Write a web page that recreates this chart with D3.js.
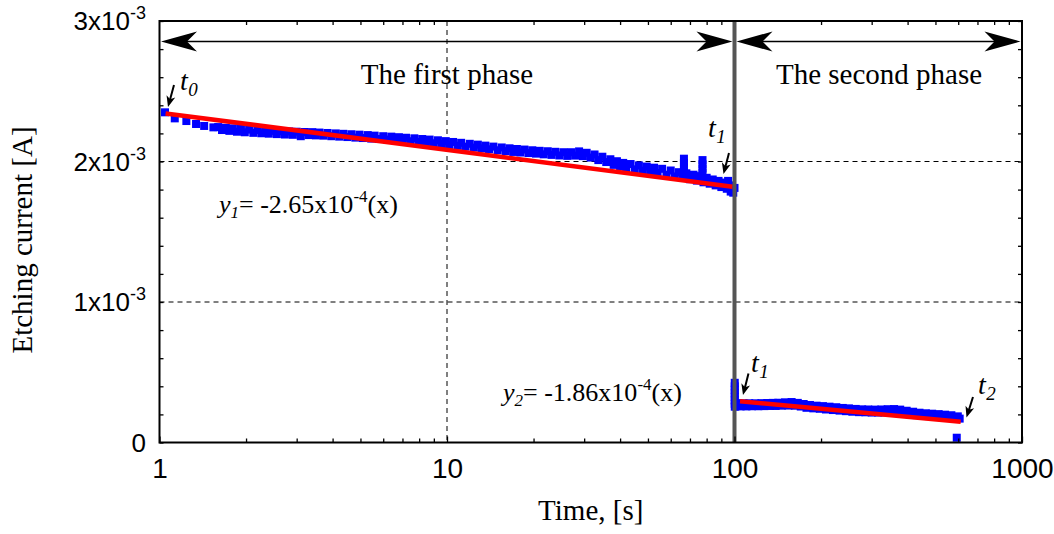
<!DOCTYPE html>
<html><head><meta charset="utf-8">
<script src="https://cdn.jsdelivr.net/npm/d3@7"></script>
<style>html,body{margin:0;padding:0;background:#fff;}svg{display:block;}</style>
</head><body>
<svg id="chart" width="1054" height="534"></svg>
<script>
// ---------- DATA (current in units of 1e-3 A, time in s) ----------
const xTickValues = [1, 10, 100, 1000];
const xTickLabels = ["1", "10", "100", "1000"];
const yTickValues = [0, 1, 2, 3];
const yTickMantissa = ["0", "1x10", "2x10", "3x10"];
const yTickExponent = ["", "-3", "-3", "-3"];

const phase1Time = [1.045,1.13,1.24,1.34,1.43,1.54,1.6,1.65,1.7,1.75,1.8,1.86,1.92,1.98,2.05,2.12,2.19,2.26,2.33,2.4,2.48,2.56,2.64,2.73,2.82,2.91,3.0,3.1,3.2,3.3,3.4,3.5,3.6,3.72,3.84,3.96,4.1,4.22,4.36,4.5,4.65,4.8,4.96,5.1,5.3,5.45,5.6,5.8,6.0,6.2,6.4,6.6,6.8,7.0,7.2,7.45,7.7,7.95,8.2,8.45,8.7,9.0,9.3,9.6,9.9,10.2,10.5,10.9,11.2,11.6,12,12.4,12.8,13.2,13.6,14,14.5,15,15.5,16,16.5,17,17.5,18,18.6,19.2,19.8,20.4,21,21.7,22.4,23.1,23.8,24.6,25.4,26.2,27,27.9,28.8,29.7,30.6,31.6,32.6,33.6,34.7,35.8,37,38,39,40,41,42,43.5,45,46.5,48,49.5,51,52.5,54,56,58,60,62,64,66,68,70,72,74,76,78,80,82,84,86,88,90,92,94,95,96,97,98,99,100];
const phase1Current = [2.350,2.307,2.288,2.267,2.253,2.243,2.245,2.224,2.240,2.218,2.236,2.212,2.232,2.208,2.227,2.204,2.224,2.201,2.221,2.198,2.218,2.195,2.216,2.192,2.214,2.190,2.212,2.180,2.210,2.188,2.209,2.186,2.206,2.184,2.203,2.180,2.200,2.177,2.197,2.174,2.194,2.170,2.191,2.167,2.188,2.163,2.184,2.160,2.180,2.156,2.177,2.152,2.173,2.148,2.169,2.144,2.165,2.139,2.160,2.135,2.156,2.130,2.151,2.124,2.145,2.118,2.139,2.112,2.133,2.106,2.126,2.099,2.120,2.093,2.113,2.087,2.106,2.080,2.100,2.074,2.094,2.068,2.089,2.064,2.085,2.060,2.080,2.056,2.076,2.051,2.073,2.047,2.069,2.043,2.066,2.040,2.066,2.042,2.072,2.038,2.062,2.028,2.050,2.010,2.034,1.996,2.016,1.976,2.002,1.964,1.990,1.952,1.982,1.944,1.972,1.934,1.964,1.926,1.956,1.918,1.948,1.906,1.936,1.894,1.924,1.884,1.916,1.874,1.906,1.864,1.896,1.852,1.884,1.842,1.872,1.830,1.862,1.818,1.850,1.806,1.862,1.830,1.786,1.808,1.778,1.812];

const spikeTime = [66.7,66.7,66.7,66.7,77.4,77.4,77.4,77.4];
const spikeCurrent = [2.020,1.990,1.960,1.930,2.010,1.980,1.950,1.920];

const phase2Time = [100.2,100.2,100.2,100.2,100.2,100.2,100.2,100.2,101,103,105,107.5,110,112.5,115,118,121,124,127,130,133,136,139,142,146,150,154,158,162,166,170,174,178,183,188,193,198,203,208,214,220,226,232,238,244,250,257,264,271,278,285,292,300,308,316,324,332,341,350,359,368,377,387,397,407,418,429,440,451,463,475,487,500,513,526,540,554,568,583,598,607,593];
const phase2Current = [0.425,0.400,0.375,0.350,0.325,0.300,0.275,0.255,0.258,0.280,0.257,0.279,0.257,0.279,0.258,0.279,0.258,0.280,0.259,0.281,0.260,0.282,0.260,0.283,0.262,0.286,0.263,0.288,0.262,0.282,0.256,0.274,0.247,0.267,0.243,0.262,0.240,0.259,0.235,0.255,0.231,0.251,0.227,0.246,0.223,0.243,0.219,0.239,0.216,0.236,0.215,0.235,0.213,0.234,0.213,0.235,0.214,0.237,0.215,0.238,0.213,0.234,0.207,0.226,0.200,0.219,0.195,0.212,0.191,0.208,0.188,0.205,0.185,0.202,0.181,0.198,0.178,0.194,0.172,0.186,0.170,0.034];

const fit1Time = [1.05, 98.5];
const fit1Current = [2.342, 1.820];
const fit2Time = [104.5, 612];
const fit2Current = [0.293, 0.148];

const gridCurrent = [1, 2];
const gridTime = [10, 100];
const phaseBoundary = 100;

// ---------- LAYOUT ----------
const M = {left: 159.5, right: 1022, top: 21, bottom: 442.5};
const SERIF = "'Liberation Serif','Times New Roman',Times,serif";
const SANS = "'Liberation Sans',Arial,Helvetica,sans-serif";

const x = d3.scaleLog().domain([1, 1000]).range([M.left, M.right]);
const y = d3.scaleLinear().domain([0, 3]).range([M.bottom, M.top]);
const svg = d3.select("#chart");
const zip = (a, b) => a.map((v, i) => [v, b[i]]);

// grid
svg.append("g").selectAll("line").data(gridCurrent).join("line")
  .attr("x1", M.left).attr("x2", M.right)
  .attr("y1", d => y(d)).attr("y2", d => y(d))
  .attr("stroke", "#000").attr("stroke-width", 1).attr("stroke-dasharray", "5,4");
svg.append("g").selectAll("line").data(gridTime).join("line")
  .attr("x1", d => x(d)).attr("x2", d => x(d))
  .attr("y1", M.top).attr("y2", M.bottom)
  .attr("stroke", "#000").attr("stroke-width", 1).attr("stroke-dasharray", "5,4");

// markers
const S = 8;
function squares(data) {
  svg.append("g").selectAll("rect").data(data).join("rect")
    .attr("x", d => x(d[0]) - S / 2).attr("y", d => y(d[1]) - S / 2)
    .attr("width", S).attr("height", S).attr("fill", "#0000ff");
}
squares(zip(phase1Time, phase1Current));
squares(zip(spikeTime, spikeCurrent));
squares(zip(phase2Time, phase2Current));

// fit lines
const line = d3.line().x(d => x(d[0])).y(d => y(d[1]));
[zip(fit1Time, fit1Current), zip(fit2Time, fit2Current)].forEach(f => {
  svg.append("path").datum(f).attr("d", line)
    .attr("fill", "none").attr("stroke", "#ff0000").attr("stroke-width", 4.5);
});

// phase boundary
svg.append("line").attr("x1", x(phaseBoundary)).attr("x2", x(phaseBoundary))
  .attr("y1", M.top).attr("y2", M.bottom)
  .attr("stroke", "#555").attr("stroke-width", 4);

// axes ticks (inward)
const minorX = [];
[1, 10, 100].forEach(d => { for (let k = 2; k <= 9; k++) minorX.push(d * k); });
const minorY = d3.range(0, 3.001, 0.2);

function styleAxis(g) { g.select(".domain").remove(); g.selectAll(".tick line").attr("stroke", "#000").attr("stroke-width", 1.3); }

svg.append("g").attr("transform", `translate(0,${M.bottom})`)
  .call(d3.axisBottom(x).tickValues(minorX).tickFormat("").tickSizeInner(-4).tickSizeOuter(0)).call(styleAxis);
svg.append("g").attr("transform", `translate(0,${M.top})`)
  .call(d3.axisTop(x).tickValues(minorX).tickFormat("").tickSizeInner(-4).tickSizeOuter(0)).call(styleAxis);
const xAx = svg.append("g").attr("transform", `translate(0,${M.bottom})`)
  .call(d3.axisBottom(x).tickValues(xTickValues).tickFormat((d, i) => xTickLabels[i])
    .tickSizeInner(-6).tickSizeOuter(0).tickPadding(15.5)).call(styleAxis);
xAx.selectAll("text").attr("font-family", SANS).attr("font-size", 28).attr("fill", "#000");

svg.append("g").attr("transform", `translate(${M.left},0)`)
  .call(d3.axisLeft(y).tickValues(minorY).tickFormat("").tickSizeInner(-4).tickSizeOuter(0)).call(styleAxis);
svg.append("g").attr("transform", `translate(${M.right},0)`)
  .call(d3.axisRight(y).tickValues(minorY).tickFormat("").tickSizeInner(-4).tickSizeOuter(0)).call(styleAxis);

// y tick labels with superscript
const yl = svg.append("g").selectAll("text").data(yTickValues).join("text")
  .attr("x", 146).attr("y", d => y(d) + 9)
  .attr("text-anchor", "end").attr("font-family", SANS).attr("font-size", 26).attr("fill", "#000");
yl.append("tspan").text((d, i) => yTickMantissa[i]);
yl.filter((d, i) => yTickExponent[i] !== "").append("tspan")
  .attr("font-size", 18).attr("dy", -11).text((d) => yTickExponent[yTickValues.indexOf(d)]);

// frame
svg.append("rect").attr("x", M.left).attr("y", M.top)
  .attr("width", M.right - M.left).attr("height", M.bottom - M.top)
  .attr("fill", "none").attr("stroke", "#000").attr("stroke-width", 2);

// axis titles
svg.append("text").attr("x", (M.left + M.right) / 2).attr("y", 520)
  .attr("text-anchor", "middle").attr("font-family", SERIF).attr("font-size", 29)
  .text("Time, [s]");
svg.append("text").attr("transform", "translate(32,240) rotate(-90)")
  .attr("text-anchor", "middle").attr("font-family", SERIF).attr("font-size", 29)
  .text("Etching current [A]");

// ---------- ANNOTATIONS ----------
function head(tx, ty, ux, uy, L, Hh, N) {
  const px = -uy, py = ux;
  const p = [[tx, ty],
    [tx - ux * L + px * Hh, ty - uy * L + py * Hh],
    [tx - ux * N, ty - uy * N],
    [tx - ux * L - px * Hh, ty - uy * L - py * Hh]];
  return "M" + p.map(q => q.join(",")).join("L") + "Z";
}
const ay = 41.5;
function dblArrow(x1, x2) {
  svg.append("line").attr("x1", x1 + 10).attr("x2", x2 - 10).attr("y1", ay).attr("y2", ay)
    .attr("stroke", "#000").attr("stroke-width", 1.5);
  svg.append("path").attr("d", head(x1, ay, -1, 0, 36, 10, 26)).attr("fill", "#000");
  svg.append("path").attr("d", head(x2, ay, 1, 0, 36, 10, 26)).attr("fill", "#000");
}
dblArrow(x(1) + 1.5, x(phaseBoundary) - 2);
dblArrow(x(phaseBoundary) + 2, x(1000) - 1.5);

svg.append("text").attr("x", x(10)).attr("y", 84).attr("text-anchor", "middle")
  .attr("font-family", SERIF).attr("font-size", 29).text("The first phase");
svg.append("text").attr("x", 879).attr("y", 84).attr("text-anchor", "middle")
  .attr("font-family", SERIF).attr("font-size", 29).text("The second phase");

function smallArrow(x1, y1, x2, y2) {
  const dx = x2 - x1, dy = y2 - y1, len = Math.hypot(dx, dy), ux = dx / len, uy = dy / len;
  svg.append("line").attr("x1", x1).attr("y1", y1).attr("x2", x2 - ux * 6).attr("y2", y2 - uy * 6)
    .attr("stroke", "#000").attr("stroke-width", 2);
  svg.append("path").attr("d", head(x2, y2, ux, uy, 11, 4.5, 8)).attr("fill", "#000");
}
smallArrow(174, 85, 168, 107);
smallArrow(729, 153, 723.5, 174);
smallArrow(748.5, 373.5, 743, 395);
smallArrow(973, 397, 966.5, 417.5);

function tLabel(tx, ty, sub) {
  const t = svg.append("text").attr("x", tx).attr("y", ty)
    .attr("font-family", SERIF).attr("font-style", "italic").attr("font-size", 28);
  t.append("tspan").text("t");
  t.append("tspan").attr("font-size", 19).attr("dy", 6).attr("dx", 0.5).text(sub);
}
tLabel(180, 90, "0");
tLabel(708, 136.5, "1");
tLabel(751, 372, "1");
tLabel(978, 394, "2");

function eqLabel(ex, ey, sub, coef, exp) {
  const t = svg.append("text").attr("x", ex).attr("y", ey)
    .attr("font-family", SERIF).attr("font-size", 26);
  t.append("tspan").attr("font-style", "italic").text("y");
  t.append("tspan").attr("font-style", "italic").attr("font-size", 17).attr("dy", 5).text(sub);
  t.append("tspan").attr("dy", -5).text("= " + coef + "x10");
  t.append("tspan").attr("font-size", 17).attr("dy", -11).text(exp);
  t.append("tspan").attr("dy", 11).text("(x)");
}
eqLabel(219, 213, "1", "-2.65", "-4");
eqLabel(503, 401, "2", "-1.86", "-4");
</script>
</body></html>
